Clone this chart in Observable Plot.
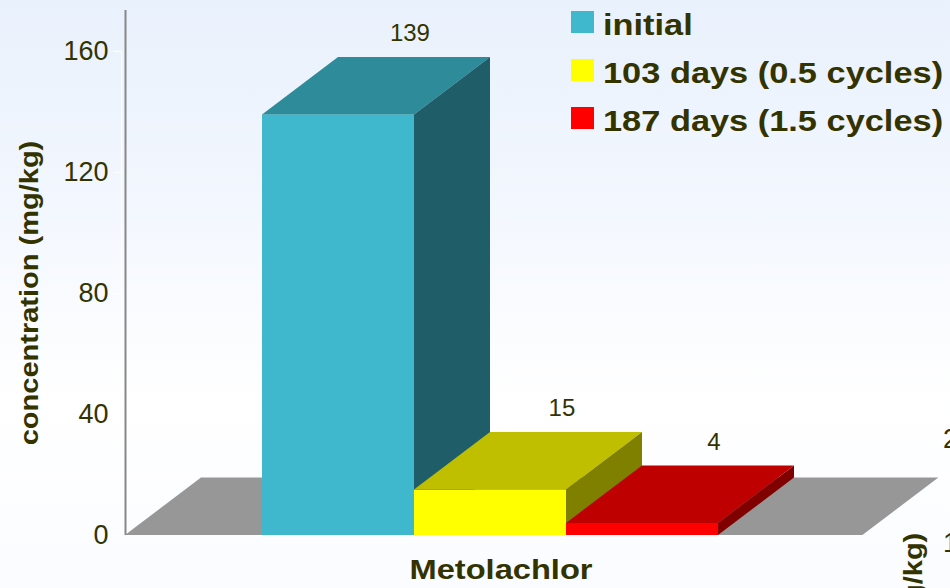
<!DOCTYPE html>
<html>
<head>
<meta charset="utf-8">
<script src="https://cdn.jsdelivr.net/npm/d3@7"></script>
<script src="https://cdn.jsdelivr.net/npm/@observablehq/plot@0.6"></script>
<style>
  html, body { margin: 0; padding: 0; }
  #wrap {
    position: relative; width: 950px; height: 588px; overflow: hidden;
    background: linear-gradient(to bottom, #e9f1fc 0%, #f3f7fe 35%, #ffffff 68%, #fafcff 100%);
    font-family: "Liberation Sans", Arial, sans-serif; color: #333300;
  }
  #chart { position: absolute; left: 0; top: 0; }
  .bold { font-weight: bold; white-space: nowrap; position: absolute; }
  .lg-row { position: absolute; left: 571px; height: 32px; }
  .lg-sw { position: absolute; left: 0; top: 1px; width: 23px; height: 22px; }
  .lg-tx { position: absolute; left: 32px; top: -1px; font-size: 29px; line-height: 32px;
           font-weight: bold; white-space: nowrap; transform: scaleX(1.185); transform-origin: left center; }
</style>
</head>
<body>
<div id="wrap">
  <div id="chart"></div>
</div>
<script>
// ---- data ----
const categories = ["initial", "103 days (0.5 cycles)", "187 days (1.5 cycles)"];
const values = [139, 15, 4];
const frontColors = ["#3fb8cd", "#ffff00", "#ff0000"];
const topColors = ["#2e8b9a", "#bfbf00", "#bf0000"];
const sideColors = ["#1f5d69", "#808000", "#800000"];
const yTicks = [0, 40, 80, 120, 160];
const xLabel = "Metolachlor";
const yLabel = "concentration (mg/kg)";
const cutTicks = ["20", "10"]; // neighbouring chart, cut off at the right edge

// ---- layout constants ----
const W = 950, H = 588;
const mL = 125, mT = 10, mB = 53;
const pxPerUnitX = 152;                 // one bar width
const xMin = -(262 - mL) / pxPerUnitX;  // axis position in bar units
const xMax = xMin + (W - mL) / pxPerUnitX;
const yMax = 173.5;
const DX = 0.5, DY = 19;                // 3D depth offsets (scale units)
const floorEnd = 3.95;

const bars = categories.map((c, i) => ({i, c, v: values[i]}));

const marks = [];
// floor
marks.push(Plot.areaX(
  [{y: 0, a: xMin, b: floorEnd}, {y: DY, a: xMin + DX, b: floorEnd + DX}],
  {y: "y", x1: "a", x2: "b", fill: "#979797"}
));
// bars
for (const d of bars) {
  marks.push(Plot.rect([d], {x1: d => d.i, x2: d => d.i + 1, y1: 0, y2: d => d.v, fill: frontColors[d.i]}));
  marks.push(Plot.areaX(
    [{y: d.v, a: d.i, b: d.i + 1}, {y: d.v + DY, a: d.i + DX, b: d.i + 1 + DX}],
    {y: "y", x1: "a", x2: "b", fill: topColors[d.i]}
  ));
  marks.push(Plot.areaY(
    [{x: d.i + 1, lo: 0, hi: d.v}, {x: d.i + 1 + DX, lo: DY, hi: d.v + DY}],
    {x: "x", y1: "lo", y2: "hi", fill: sideColors[d.i]}
  ));
}
// value labels
marks.push(Plot.text(bars, {
  x: d => d.i + 0.47 + DX, y: d => d.v + DY, text: d => String(d.v),
  dy: -24, fontSize: 24, fill: "#333300"
}));
// faint white axis and ticks
marks.push(Plot.ruleX([xMin], {y1: 0, y2: yTicks[yTicks.length - 1], stroke: "#ffffff", dx: -4}));
marks.push(Plot.ruleY(yTicks, {x1: xMin - 12 / pxPerUnitX, x2: xMin - 4 / pxPerUnitX, stroke: "#ffffff"}));
// gray axis line
marks.push(Plot.ruleX([xMin], {y1: 0, y2: yMax, stroke: "#878787", strokeWidth: 2}));
// y tick labels (through the y scale)
marks.push(Plot.text(yTicks, {
  x: xMin, y: d => d, text: d => String(d), textAnchor: "end", dx: -17,
  fontSize: 27, fill: "#333300"
}));

const chart = Plot.plot({
  width: W, height: H,
  marginLeft: mL, marginRight: 0, marginTop: mT, marginBottom: mB,
  style: {background: "transparent", color: "#333300", fontFamily: "Liberation Sans, Arial, sans-serif", overflow: "visible"},
  x: {domain: [xMin, xMax], axis: null},
  y: {domain: [0, yMax], axis: null},
  marks
});
const wrap = document.getElementById("wrap");
document.getElementById("chart").appendChild(chart);

// legend
categories.forEach((c, i) => {
  const row = document.createElement("div");
  row.className = "lg-row";
  row.style.top = (10 + 48 * i) + "px";
  const sw = document.createElement("div");
  sw.className = "lg-sw";
  sw.style.background = frontColors[i];
  const tx = document.createElement("div");
  tx.className = "lg-tx";
  tx.textContent = c;
  row.appendChild(sw); row.appendChild(tx);
  wrap.appendChild(row);
});

// x title
const xt = document.createElement("div");
xt.className = "bold";
xt.textContent = xLabel;
Object.assign(xt.style, {left: "501px", top: "578px", fontSize: "28px", lineHeight: "28px",
  transform: "translate(-50%, -80%) scaleX(1.165)"});
wrap.appendChild(xt);

// y title
function rotTitle(cx, cy) {
  const t = document.createElement("div");
  t.className = "bold";
  t.textContent = yLabel;
  Object.assign(t.style, {left: cx + "px", top: cy + "px", fontSize: "25px", lineHeight: "28px",
    transform: "translate(-50%, -50%) rotate(-90deg) scaleX(1.16)"});
  wrap.appendChild(t);
}
rotTitle(29, 293);
rotTitle(913, 533 + 152);

// cut-off tick labels of neighbouring chart
cutTicks.forEach((s, i) => {
  const t = document.createElement("div");
  t.textContent = s;
  Object.assign(t.style, {position: "absolute", left: "943px", top: (439 + 104 * i) + "px",
    fontSize: "27px", lineHeight: "30px", transform: "translateY(-50%)", color: "#333300"});
  wrap.appendChild(t);
});
</script>
</body>
</html>
